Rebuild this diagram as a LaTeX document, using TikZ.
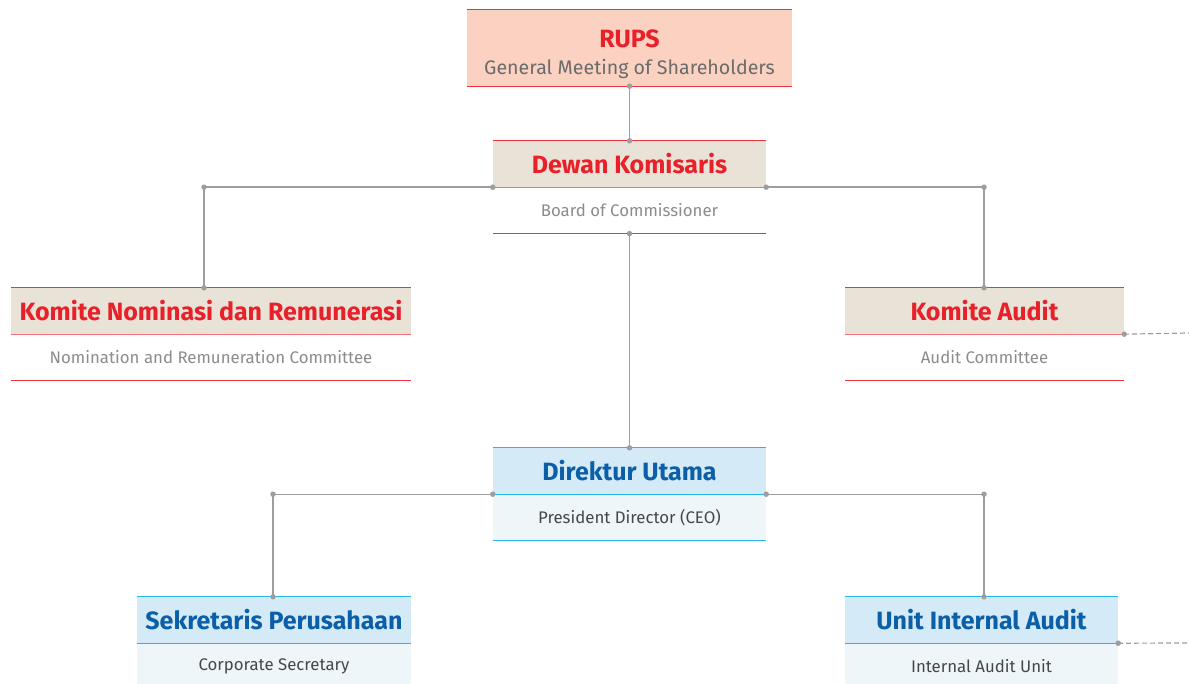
\documentclass[tikz,border=0pt]{standalone}
\usepackage{fontspec}
\setmainfont{Fira Sans}
\usepackage{tikz}
\usetikzlibrary{positioning, calc}
\definecolor{orgred}{HTML}{E8202A}
\definecolor{orgredline}{HTML}{EE3340}
\definecolor{orgblue}{HTML}{0B5EA8}
\definecolor{orgblueline}{HTML}{29B6E8}
\definecolor{beigefill}{HTML}{E9E2D6}
\definecolor{peachfill}{HTML}{FBD1C1}
\definecolor{bluefill}{HTML}{D4EAF6}
\definecolor{palefill}{HTML}{EEF6FA}
\definecolor{conngray}{HTML}{9E9E9E}
\tikzset{
  head/.style = {inner sep=0pt, minimum height=46pt, font=\bfseries\fontsize{25}{28}\selectfont},
  redhead/.style = {head, fill=beigefill, text=orgred},
  bluehead/.style = {head, fill=bluefill, text=orgblue},
  sub/.style = {inner sep=0pt, minimum height=46pt, font=\fontsize{16.8}{19}\selectfont},
  redsub/.style = {sub, fill=white, text=black!45},
  bluesub/.style = {sub, fill=palefill, text=black!72},
  redline/.style = {draw=orgredline, line width=1.3pt},
  blueline/.style = {draw=orgblueline, line width=1.3pt},
  conn/.style = {draw=conngray, line width=1.4pt},
  dot/.style = {circle, fill=conngray, inner sep=0pt, minimum size=5.5pt}
}

\begin{document}
\begin{tikzpicture}[x=1pt, y=-1pt]
\useasboundingbox (0,0) rectangle (1189,684);

% boxes
\node [inner sep=0pt, minimum width=325pt, minimum height=76pt, fill=peachfill,
       align=center, text height=53pt, text depth=0pt, font=\fontsize{19.6}{27}\selectfont] (rups) at (629.5,48)
  {{\bfseries\fontsize{25}{27}\selectfont\color{orgred}RUPS}\\
   {\color{black!58}General Meeting of Shareholders}};

\node [redhead, minimum width=273pt] (dk) at (629.5,164) {Dewan Komisaris};
\node [redsub, minimum width=273pt, below=0pt of dk] (dks) {Board of Commissioner};

\node [redhead, minimum width=400pt] (knr) at (211,311) {Komite Nominasi dan Remunerasi};
\node [redsub, minimum width=400pt, below=0pt of knr] (knrs) {Nomination and Remuneration Committee};

\node [redhead, minimum width=279pt] (ka) at (984.5,311) {Komite Audit};
\node [redsub, minimum width=279pt, below=0pt of ka] (kas) {Audit Committee};

\node [bluehead, minimum width=273pt] (du) at (629.5,471) {Direktur Utama};
\node [bluesub, minimum width=273pt, below=0pt of du] (dus) {President Director (CEO)};

\node [bluehead, minimum width=274pt] (sp) at (274,620) {Sekretaris Perusahaan};
\node [bluesub, minimum width=274pt, below=0pt of sp] (sps) {Corporate Secretary};

\node [bluehead, minimum width=273pt] (uia) at (981.5,620) {Unit Internal Audit};
\node [bluesub, minimum width=273pt, below=0pt of uia] (uias) {Internal Audit Unit};

% rules on the boxes
\draw [redline] (rups.north west) -- (rups.north east);
\draw [redline] (rups.south west) -- (rups.south east);
\foreach \n in {dk,knr,ka} {
  \draw [redline] (\n.north west) -- (\n.north east);
  \draw [redline, draw=orgredline!70] (\n.south west) -- (\n.south east);
  \draw [redline] (\n s.south west) -- (\n s.south east);
}
\foreach \n in {du,sp,uia} {
  \draw [blueline] (\n.north west) -- (\n.north east);
  \draw [blueline] (\n.south west) -- (\n.south east);
}
\draw [blueline] (dus.south west) -- (dus.south east);

% connectors
\coordinate (knrtop) at ([xshift=-7pt]knr.north);
\coordinate (katop) at ([xshift=-0.5pt]ka.north);
\coordinate (sptop) at ([xshift=-1pt]sp.north);
\coordinate (uiatop) at ([xshift=2.5pt]uia.north);
\coordinate (kaend) at (1189,333);
\coordinate (uiaend) at (1189,643);

\draw [conn] (rups.south) -- (dk.north);
\draw [conn] (dk.south west) -| (knrtop);
\draw [conn] (dk.south east) -| (katop);
\draw [conn] (dks.south) -- (du.north);
\draw [conn] (du.south west) -| (sptop);
\draw [conn] (du.south east) -| (uiatop);
\draw [conn, line width=1.2pt, dash pattern=on 5pt off 3pt] (ka.south east) -- (kaend);
\draw [conn, line width=1.2pt, dash pattern=on 5pt off 3pt] (uia.south east) -- (uiaend);

% dots
\foreach \p in {rups.south, dk.north, dk.south west, dk.south east, knrtop, katop,
                dks.south, du.north, du.south west, du.south east, sptop, uiatop,
                ka.south east, uia.south east}
  \node [dot] at (\p) {};
\node [dot] at (knrtop |- dk.south) {};
\node [dot] at (katop |- dk.south) {};
\node [dot] at (sptop |- du.south) {};
\node [dot] at (uiatop |- du.south) {};
\end{tikzpicture}
\end{document}
